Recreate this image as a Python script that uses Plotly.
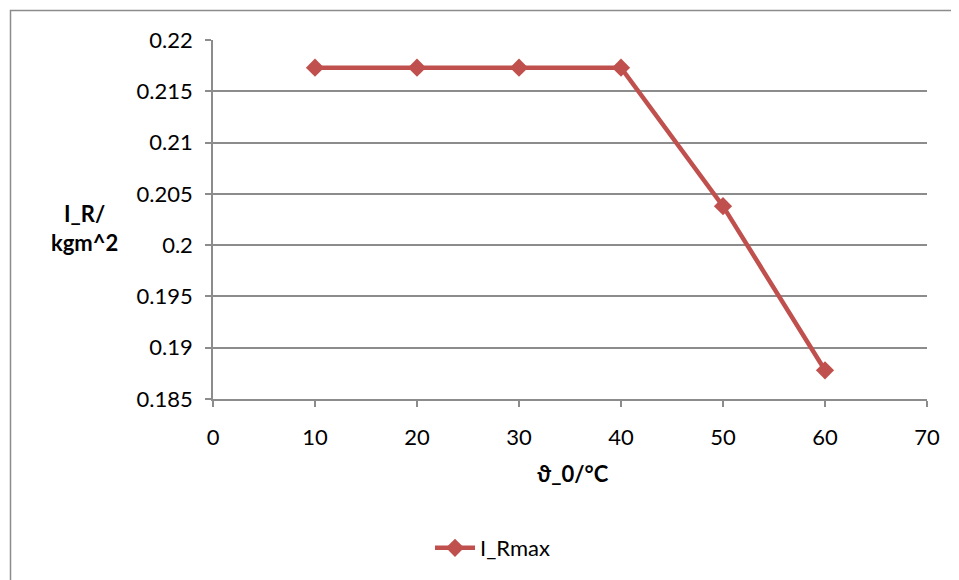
import plotly.graph_objects as go

temps = [10, 20, 30, 40, 50, 60]
i_rmax = [0.2173, 0.2173, 0.2173, 0.2173, 0.2038, 0.1878]
y_tickvals = [0.185, 0.19, 0.195, 0.2, 0.205, 0.21, 0.215, 0.22]
y_ticktext = ["0.185", "0.19", "0.195", "0.2", "0.205", "0.21", "0.215", "0.22"]
x_tickvals = [0, 10, 20, 30, 40, 50, 60, 70]

RED = "#C0504D"
GRID = "#8C8C8C"
FONT = "Lato"
FS = 22

OFF = 8  # page body margin
W, H = 959, 580
# screen-pixel plot area
SL, SR, ST, SB = 213, 927, 40, 399
L = SL - OFF
T = ST - OFF
R = W - (SR - OFF)
B = H - (SB - OFF)
pw, ph = W - L - R, H - T - B

def px(x):
    return (x - OFF - L) / pw

def py(y):
    return (H - B - (y - OFF)) / ph

fig = go.Figure()
fig.add_trace(go.Scatter(
    x=temps, y=i_rmax, mode="lines+markers", name="I_Rmax",
    line=dict(color=RED, width=4.5),
    marker=dict(symbol="diamond", size=14, color=RED),
))

fig.update_layout(
    width=W, height=H,
    margin=dict(l=L, r=R, t=T, b=B),
    paper_bgcolor="white", plot_bgcolor="white",
    font=dict(family=FONT, size=FS, color="#000000"),
    showlegend=True,
    legend=dict(x=px(430), y=py(548), xanchor="left", yanchor="middle",
                orientation="h", font=dict(family=FONT, size=FS),
                bgcolor="rgba(0,0,0,0)", itemwidth=40),
    xaxis=dict(range=[0, 70], tickvals=x_tickvals, showgrid=False,
               showline=True, linecolor=GRID, linewidth=1.5,
               ticks="outside", ticklen=6, tickcolor=GRID, tickwidth=1.5,
               ticklabelstandoff=12, zeroline=False,
               tickfont=dict(family=FONT, size=FS)),
    yaxis=dict(range=[0.185, 0.22], tickvals=y_tickvals, ticktext=y_ticktext,
               showgrid=True, gridcolor=GRID, gridwidth=1.5,
               showline=True, linecolor=GRID, linewidth=1.5,
               ticks="outside", ticklen=6, tickcolor=GRID, tickwidth=1.5,
               ticklabelstandoff=8, zeroline=False,
               tickfont=dict(family=FONT, size=FS)),
    shapes=[dict(type="rect", xref="paper", yref="paper",
                 x0=px(10.5), x1=px(1200), y0=py(1200), y1=py(10.5),
                 line=dict(color=GRID, width=1.5), fillcolor="rgba(0,0,0,0)",
                 layer="below")],
    annotations=[
        dict(text="<b>I_R/<br>kgm^2</b>", xref="paper", yref="paper",
             x=px(84), y=py(228), showarrow=False, xanchor="center", yanchor="middle",
             font=dict(family=FONT, size=FS)),
        dict(text="<b>ϑ_0/°C</b>", xref="paper", yref="paper",
             x=px(573), y=py(473), showarrow=False, xanchor="center", yanchor="middle",
             font=dict(family=FONT, size=FS)),
    ],
)

fig.write_html("out.html")
